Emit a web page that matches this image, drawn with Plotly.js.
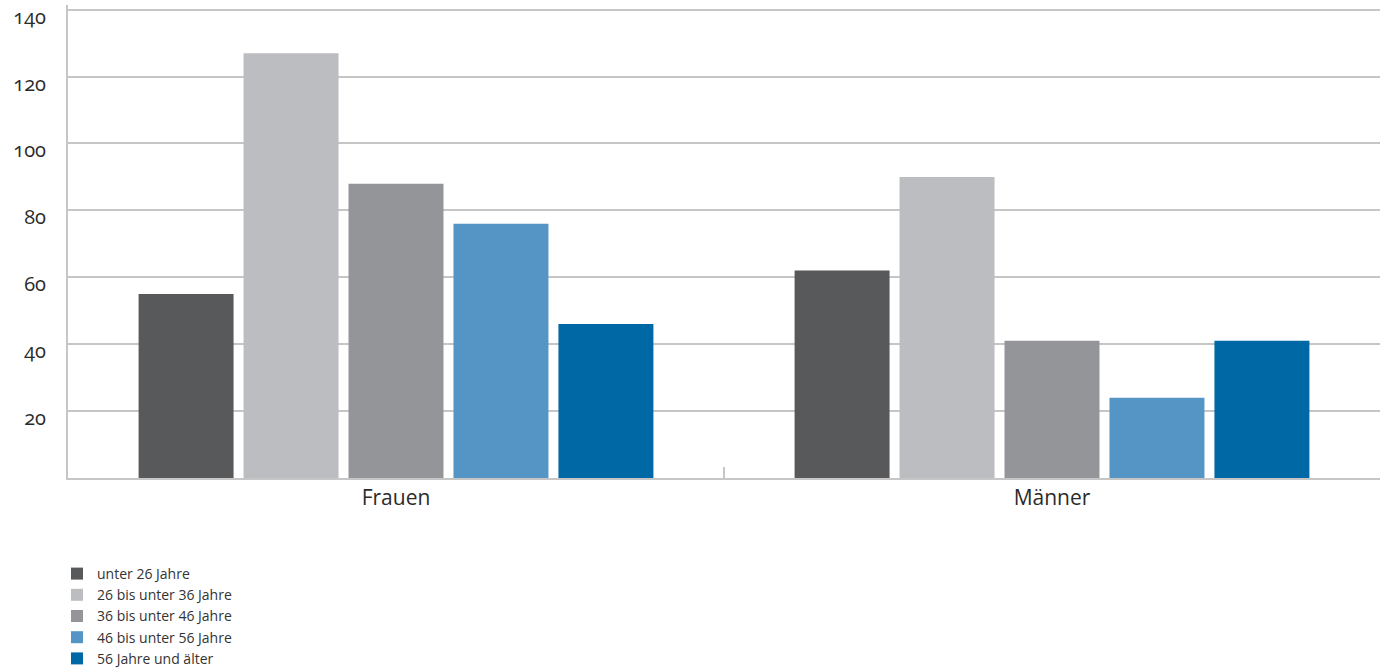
<!DOCTYPE html>
<html>
<head>
<meta charset="utf-8">
<script src="https://cdn.plot.ly/plotly-3.0.1.min.js"></script>
<style>
  html, body { margin: 0; padding: 0; background: #fff; }
  #chart { width: 1386px; height: 670px; }
  /* old-style figures on the value axis */
  #chart .ytick text { font-feature-settings: "onum" 1; }
</style>
</head>
<body>
<div id="chart"></div>
<script>
// Anzahl nach Geschlecht und Altersgruppe
const categories = ['Frauen', 'Männer'];
const seriesNames = [
  'unter 26 Jahre',
  '26 bis unter 36 Jahre',
  '36 bis unter 46 Jahre',
  '46 bis unter 56 Jahre',
  '56 Jahre und älter'
];
const unter26 = [55, 62];
const von26bis36 = [127, 90];
const von36bis46 = [88, 41];
const von46bis56 = [76, 24];
const ab56 = [46, 41];
const yTicks = [20, 40, 60, 80, 100, 120, 140];

const seriesValues = [unter26, von26bis36, von36bis46, von46bis56, ab56];
const colors = ['#58595b', '#bcbdc0', '#939598', '#5595c6', '#0068a5'];

const traces = seriesValues.map((vals, i) => ({
  type: 'bar',
  name: seriesNames[i],
  x: categories,
  y: vals,
  marker: { color: colors[i], line: { width: 0 } },
  hoverinfo: 'x+y+name'
}));

const layout = {
  width: 1386,
  height: 670,
  margin: { l: 68, r: 6, t: 5, b: 192, autoexpand: false },
  paper_bgcolor: '#ffffff',
  plot_bgcolor: '#ffffff',
  barmode: 'group',
  bargap: 0.2,
  bargroupgap: 0.095,
  font: { family: 'Open Sans, sans-serif', color: '#333333' },
  xaxis: {
    type: 'category',
    showline: true,
    linecolor: '#c6c6c6',
    linewidth: 2,
    ticks: 'inside',
    tickson: 'boundaries',
    ticklen: 11,
    tickwidth: 2,
    tickcolor: '#c6c6c6',
    tickfont: { size: 21, color: '#2b2b2b', family: 'Open Sans, sans-serif' },
    showgrid: false,
    zeroline: false,
    automargin: false,
    fixedrange: true
  },
  yaxis: {
    range: [0, 141.4],
    tickvals: yTicks,
    ticktext: yTicks.map(String),
    showline: true,
    linecolor: '#c6c6c6',
    linewidth: 2,
    showgrid: true,
    gridcolor: '#c6c6c6',
    gridwidth: 2,
    zeroline: false,
    ticks: '',
    ticklabelstandoff: 16,
    ticklabelshift: 7,
    ticklabeloverflow: 'allow',
    tickfont: { size: 20, color: '#2b2b2b', family: 'Open Sans, sans-serif' },
    automargin: false,
    fixedrange: true
  },
  showlegend: true,
  legend: {
    orientation: 'v',
    xref: 'container',
    yref: 'container',
    x: 57 / 1386,
    xanchor: 'left',
    y: 1 - 558 / 670,
    yanchor: 'top',
    traceorder: 'normal',
    font: { size: 14, color: '#333333', family: 'Open Sans, sans-serif' },
    itemwidth: 30,
    tracegroupgap: 0,
    bgcolor: 'rgba(0,0,0,0)'
  }
};

Plotly.newPlot('chart', traces, layout, { displayModeBar: false, staticPlot: true });
</script>
</body>
</html>
